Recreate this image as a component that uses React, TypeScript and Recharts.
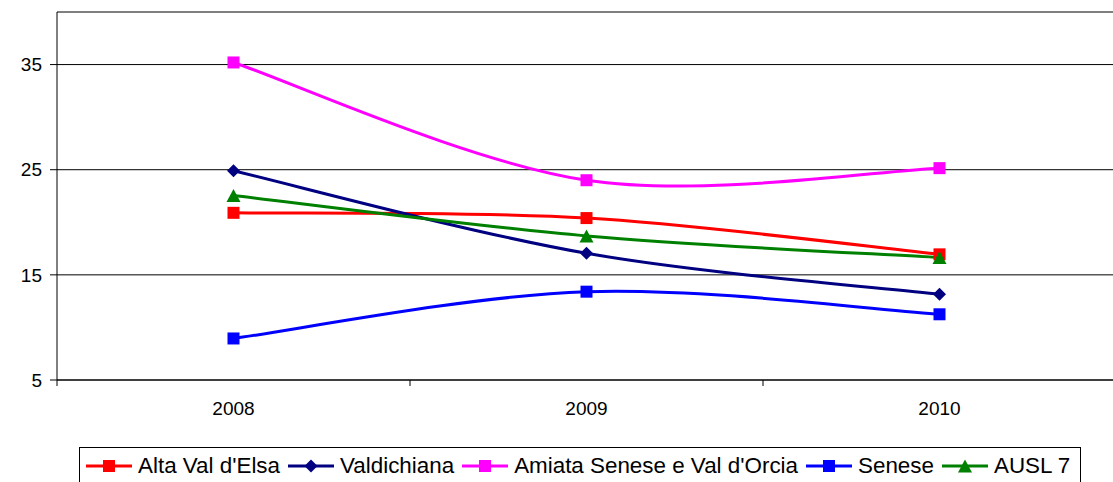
import React from 'react';
import { LineChart, Line, XAxis, YAxis, CartesianGrid, ReferenceLine } from 'recharts';

const years = ['2008', '2009', '2010'];
const altaValdElsa = [20.9, 20.4, 16.95];
const valdichiana = [24.9, 17.05, 13.15];
const amiata = [35.2, 24.0, 25.15];
const senese = [8.95, 13.4, 11.25];
const ausl7 = [22.55, 18.7, 16.65];
const yTicks = [5, 15, 25, 35];
const yDomain = [5, 40];

const seriesNames = ["Alta Val d'Elsa", 'Valdichiana', "Amiata Senese e Val d'Orcia", 'Senese', 'AUSL 7'];
const seriesKeys = ['alta', 'valdi', 'amiata', 'senese', 'ausl'];
const seriesColors = ['#FF0000', '#000080', '#FF00FF', '#0000FF', '#008000'];
const seriesShapes = ['square', 'diamond', 'square', 'square', 'triangle'];
const seriesValues = [altaValdElsa, valdichiana, amiata, senese, ausl7];

const data = years.map((y, i) => {
  const row: any = { year: y };
  seriesKeys.forEach((k, j) => { row[k] = seriesValues[j][i]; });
  return row;
});

const FONT = '"Liberation Sans", Arial, Helvetica, sans-serif';
const X_TICK_SIZE = 6;
const X_TICK_MARGIN = 15.5;

// Spreadsheet-style smoothing (Catmull-Rom like Bezier segments)
function smoothCurve(context: any) {
  let pts: number[][] = [];
  return {
    areaStart() {},
    areaEnd() {},
    lineStart() { pts = []; },
    lineEnd() {
      const n = pts.length;
      if (!n) return;
      context.moveTo(pts[0][0], pts[0][1]);
      if (n === 1) return;
      for (let i = 0; i < n - 1; i++) {
        const p0 = pts[Math.max(i - 1, 0)];
        const p1 = pts[i];
        const p2 = pts[i + 1];
        const p3 = pts[Math.min(i + 2, n - 1)];
        const c1x = p1[0] + (p2[0] - p0[0]) / 6;
        const c1y = p1[1] + (p2[1] - p0[1]) / 6;
        const c2x = p2[0] - (p3[0] - p1[0]) / 6;
        const c2y = p2[1] - (p3[1] - p1[1]) / 6;
        context.bezierCurveTo(c1x, c1y, c2x, c2y, p2[0], p2[1]);
      }
    },
    point(x: number, y: number) { pts.push([+x, +y]); },
  };
}

function Marker({ shape, color, cx, cy }: { shape: string; color: string; cx: number; cy: number }) {
  if (cx == null || cy == null || isNaN(cx) || isNaN(cy)) return null;
  if (shape === 'diamond') {
    const r = 6.5;
    return <polygon points={`${cx},${cy - r} ${cx + r},${cy} ${cx},${cy + r} ${cx - r},${cy}`} fill={color} stroke="none" />;
  }
  if (shape === 'triangle') {
    const w = 7, h = 6.5;
    return <polygon points={`${cx},${cy - h} ${cx + w},${cy + h} ${cx - w},${cy + h}`} fill={color} stroke="none" />;
  }
  const s = 6;
  return <rect x={cx - s} y={cy - s} width={2 * s} height={2 * s} fill={color} stroke="none" />;
}

function XTick(props: any) {
  const { x, y, payload, index, visibleTicksCount, width } = props;
  const half = (width || 0) / (visibleTicksCount || 1) / 2;
  const axisY = y - X_TICK_SIZE - X_TICK_MARGIN;
  return (
    <g>
      <line x1={x - half} x2={x - half} y1={axisY} y2={axisY + X_TICK_SIZE} stroke="#000" strokeWidth={1} />
      {index === visibleTicksCount - 1 && (
        <line x1={x + half} x2={x + half} y1={axisY} y2={axisY + X_TICK_SIZE} stroke="#000" strokeWidth={1} />
      )}
      <text x={x} y={y} dy="0.71em" textAnchor="middle" fill="#000" fontSize={19} fontFamily={FONT}>
        {payload.value}
      </text>
    </g>
  );
}

function LegendIcon({ shape, color }: { shape: string; color: string }) {
  return (
    <svg width={46} height={16} style={{ display: 'block', flex: 'none' }}>
      <line x1={0} x2={46} y1={8} y2={8} stroke={color} strokeWidth={3} />
      <Marker shape={shape} color={color} cx={23} cy={8} />
    </svg>
  );
}

export default function App() {
  return (
    <div style={{ position: 'absolute', left: 0, top: 0, width: 1113, height: 482, overflow: 'hidden', background: '#fff' }}>
      <LineChart
        width={1116}
        height={482}
        data={data}
        margin={{ top: 12, right: 0, left: 0, bottom: 72 }}
      >
        <CartesianGrid vertical={false} stroke="#000" strokeWidth={1} strokeDasharray="" />
        <ReferenceLine y={40} stroke="#808080" strokeWidth={1} ifOverflow="extendDomain" />
        <XAxis
          dataKey="year"
          scale="band"
          height={30}
          tickLine={false}
          tickSize={X_TICK_SIZE}
          tickMargin={X_TICK_MARGIN}
          axisLine={{ stroke: '#000', strokeWidth: 1 }}
          tick={<XTick />}
          interval={0}
        />
        <YAxis
          width={57}
          domain={yDomain}
          ticks={yTicks}
          interval={0}
          allowDataOverflow
          tickSize={7}
          tickMargin={8}
          axisLine={{ stroke: '#000', strokeWidth: 1 }}
          tickLine={{ stroke: '#000', strokeWidth: 1 }}
          tick={{ fill: '#000', fontSize: 19, fontFamily: FONT }}
        />
        {seriesKeys.map((k, j) => (
          <Line
            key={k}
            dataKey={k}
            name={seriesNames[j]}
            type={smoothCurve as any}
            stroke={seriesColors[j]}
            strokeWidth={3}
            isAnimationActive={false}
            dot={(p: any) => <Marker key={`${k}-${p.index}`} shape={seriesShapes[j]} color={seriesColors[j]} cx={p.cx} cy={p.cy} />}
            activeDot={false}
          />
        ))}
      </LineChart>
      <div
        style={{
          position: 'absolute',
          left: 79,
          top: 447,
          width: 1002,
          height: 40,
          border: '1px solid #000',
          boxSizing: 'border-box',
          display: 'flex',
          alignItems: 'center',
          paddingLeft: 6,
          paddingBottom: 3,
          fontFamily: FONT,
          fontSize: 22.4,
          color: '#000',
          whiteSpace: 'nowrap',
        }}
      >
        {seriesNames.map((n, j) => (
          <div key={n} style={{ display: 'flex', alignItems: 'center', marginRight: 8 }}>
            <LegendIcon shape={seriesShapes[j]} color={seriesColors[j]} />
            <span style={{ marginLeft: 6 }}>{n}</span>
          </div>
        ))}
      </div>
    </div>
  );
}
